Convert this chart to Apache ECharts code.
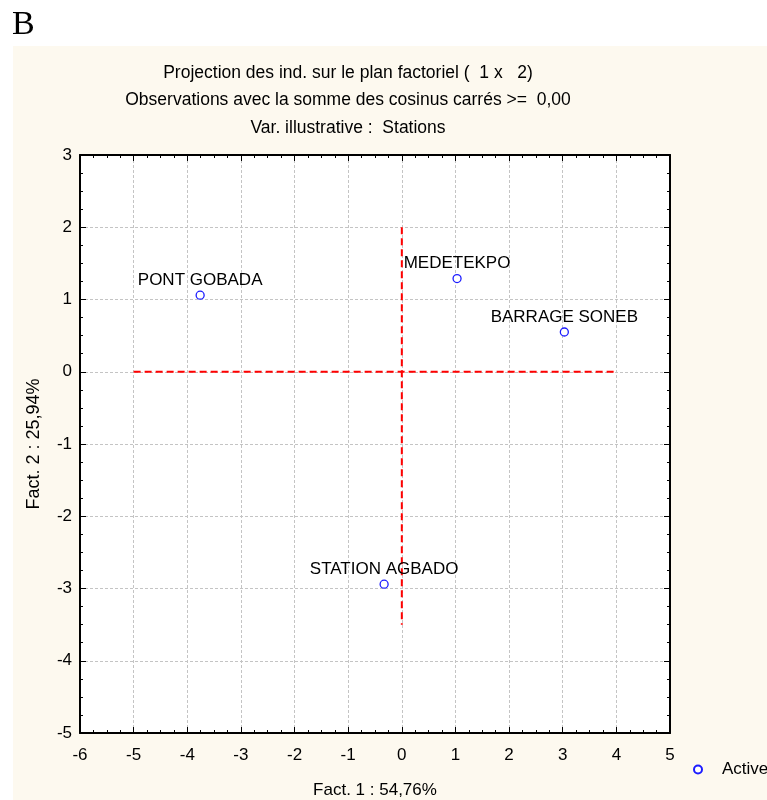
<!DOCTYPE html>
<html>
<head>
<meta charset="utf-8">
<script src="https://cdn.jsdelivr.net/npm/echarts@6/dist/echarts.min.js"></script>
<style>
  html, body { margin: 0; padding: 0; background: #fff; }
  #chart { width: 767px; height: 800px; }
</style>
</head>
<body>
<div id="chart"></div>
<script>
// individus (stations) sur le plan factoriel 1 x 2
const stations = ['PONT GOBADA', 'MEDETEKPO', 'BARRAGE SONEB', 'STATION AGBADO']
const fact1 = [-3.76, 1.03, 3.03, -0.33]
const fact2 = [1.06, 1.29, 0.55, -2.94]

// axes rouges en pointillés (origine)
const hLineX = [-5, 4]
const vLineY = [2, -3.5]

const titleLines = [
  'Projection des ind. sur le plan factoriel (  1 x   2)',
  'Observations avec la somme des cosinus carrés >=  0,00',
  'Var. illustrative :  Stations'
]

const font = "'Liberation Sans', Arial, sans-serif"
const chart = echarts.init(document.getElementById('chart'))

const frameAxis = (extra) => Object.assign({
  type: 'value',
  interval: 1,
  axisLine: { show: true, onZero: false, lineStyle: { color: '#000', width: 2 } },
  axisTick: { show: true, inside: true, length: 6, lineStyle: { color: '#000', width: 1 } },
  minorTick: { show: true, splitNumber: 4, length: 3, lineStyle: { color: '#000', width: 1 } },
  splitLine: { show: false },
  axisLabel: { show: false }
}, extra)

const option = {
  animation: false,
  textStyle: { fontFamily: font, color: '#000' },
  graphic: [
    { type: 'rect', z: -100, silent: true, shape: { x: 13, y: 46, width: 754, height: 754 }, style: { fill: '#FDF9EF' } },
    { type: 'text', left: 12, top: 8, style: { text: 'B', font: "34px 'Liberation Serif', 'Times New Roman', serif", fill: '#000' } }
  ],
  title: {
    text: titleLines.join('\n'),
    left: 343,
    top: 54,
    textAlign: 'center',
    textStyle: { fontSize: 17.5, fontWeight: 'normal', lineHeight: 27.5, color: '#000', fontFamily: font }
  },
  legend: {
    data: ['Active'],
    left: 688,
    top: 756,
    itemWidth: 38,
    itemHeight: 8,
    textStyle: { fontSize: 17, color: '#000', fontFamily: font }
  },
  grid: {
    left: 80, top: 155, width: 590, height: 578,
    outerBoundsMode: 'none',
    show: true, backgroundColor: '#fff', borderWidth: 0
  },
  xAxis: [
    frameAxis({
      min: -6, max: 5,
      position: 'bottom',
      name: 'Fact. 1 : 54,76%',
      nameLocation: 'middle',
      nameGap: 49,
      nameTextStyle: { fontSize: 17, color: '#000' },
      axisLabel: { show: true, fontSize: 17, color: '#000', margin: 14 },
      splitLine: { show: true, lineStyle: { color: '#c4c4c4', type: [3, 2], width: 1 } }
    }),
    frameAxis({ min: -6, max: 5, position: 'top' })
  ],
  yAxis: [
    frameAxis({
      min: -5, max: 3,
      position: 'left',
      name: 'Fact. 2 : 25,94%',
      nameLocation: 'middle',
      nameGap: 37,
      nameTextStyle: { fontSize: 18, color: '#000' },
      axisLabel: { show: true, fontSize: 17, color: '#000', margin: 8 },
      splitLine: { show: true, lineStyle: { color: '#c4c4c4', type: [3, 2], width: 1 } }
    }),
    frameAxis({ min: -5, max: 3, position: 'right' })
  ],
  series: [
    {
      type: 'line',
      silent: true,
      symbol: 'none',
      data: hLineX.map(x => [x, 0]),
      lineStyle: { color: '#ff0000', width: 2, type: [7, 4] },
      z: 3
    },
    {
      type: 'line',
      silent: true,
      symbol: 'none',
      data: vLineY.map(y => [0, y]),
      lineStyle: { color: '#ff0000', width: 2, type: [7, 4] },
      z: 3
    },
    {
      name: 'Active',
      type: 'scatter',
      symbol: 'circle',
      symbolSize: 8,
      itemStyle: { color: '#fff', borderColor: '#1c1cff', borderWidth: 1.3, opacity: 1 },
      label: {
        show: true,
        position: 'top',
        distance: 2,
        fontSize: 17,
        color: '#000',
        fontFamily: font,
        formatter: p => stations[p.dataIndex]
      },
      data: fact1.map((x, i) => [x, fact2[i]]),
      z: 5
    }
  ]
}

chart.setOption(option)
</script>
</body>
</html>
